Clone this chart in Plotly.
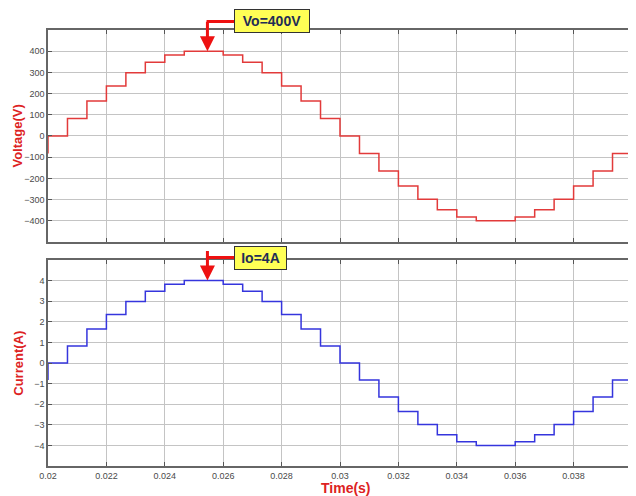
import plotly.graph_objects as go
from plotly.subplots import make_subplots

# step edges (s)
time_edges = [0.02, 0.020667, 0.021333, 0.022, 0.022667, 0.023333, 0.024, 0.024667,
              0.025333, 0.026, 0.026667, 0.027333, 0.028, 0.028667, 0.029333,
              0.03, 0.030667, 0.031333, 0.032, 0.032667, 0.033333, 0.034, 0.034667,
              0.035333, 0.036, 0.036667, 0.037333, 0.038, 0.038667, 0.039333, 0.04]
voltage_levels = [0, 83, 165, 236, 298, 348, 382, 400, 400, 382, 348, 298, 236, 165, 83,
                  0, -83, -165, -236, -298, -348, -382, -400, -400, -382, -348, -298, -236, -165, -83]
current_levels = [0, 0.83, 1.65, 2.36, 2.98, 3.48, 3.82, 4.0, 4.0, 3.82, 3.48, 2.98, 2.36, 1.65, 0.83,
                  0, -0.83, -1.65, -2.36, -2.98, -3.48, -3.82, -4.0, -4.0, -3.82, -3.48, -2.98, -2.36, -1.65, -0.83]
voltage_before = -83
current_before = -0.83

x_ticks = [0.02, 0.022, 0.024, 0.026, 0.028, 0.03, 0.032, 0.034, 0.036, 0.038]
x_tick_text = ["0.02", "0.022", "0.024", "0.026", "0.028", "0.03", "0.032", "0.034", "0.036", "0.038"]
v_ticks = [-400, -300, -200, -100, 0, 100, 200, 300, 400]
i_ticks = [-4, -3, -2, -1, 0, 1, 2, 3, 4]

peak_time = 0.02546

def step_xy(levels, before):
    xs = [time_edges[0]]
    ys = [before]
    for k, v in enumerate(levels):
        xs.append(time_edges[k])
        ys.append(v)
    xs.append(time_edges[-1])
    ys.append(levels[-1])
    return xs, ys

fig = make_subplots(rows=2, cols=1, shared_xaxes=False, vertical_spacing=0.04)

vx, vy = step_xy(voltage_levels, voltage_before)
ix, iy = step_xy(current_levels, current_before)
fig.add_trace(go.Scatter(x=vx, y=vy, mode="lines", line=dict(color="#e23a3a", width=1.5, shape="hv"),
                         showlegend=False), row=1, col=1)
fig.add_trace(go.Scatter(x=ix, y=iy, mode="lines", line=dict(color="#3535dd", width=1.5, shape="hv"),
                         showlegend=False), row=2, col=1)

tickfont = dict(family="Liberation Sans, Arial", size=9, color="#4a4a4a")
common_x = dict(range=[0.02, 0.04], tickvals=x_ticks, ticktext=x_tick_text, showgrid=True,
                gridcolor="#c4c4c4", gridwidth=1.3, showline=True, linecolor="#666666", linewidth=1.5,
                mirror="ticks", ticks="inside", ticklen=4, tickcolor="#555555", zeroline=False,
                tickfont=tickfont)
common_y = dict(showgrid=True, gridcolor="#c4c4c4", gridwidth=1.3, showline=True, linecolor="#666666",
                linewidth=1.5, mirror="ticks", ticks="inside", ticklen=4, tickcolor="#555555",
                zeroline=False, tickfont=tickfont)

# page body has an 8px margin, so the figure is sized/offset to compensate
fig.update_layout(
    width=628, height=488,
    margin=dict(l=40, r=4, t=22, b=30, autoexpand=False),
    paper_bgcolor="white", plot_bgcolor="white",
    xaxis=dict(domain=[0, 1], showticklabels=False, **common_x),
    xaxis2=dict(domain=[0, 1], showticklabels=True, **common_x),
    yaxis=dict(domain=[0.5138, 1.0], range=[-500, 500], tickvals=v_ticks, **common_y),
    yaxis2=dict(domain=[0.0, 0.4725], range=[-5, 5], tickvals=i_ticks, **common_y),
)

# axis titles
title_font = dict(family="Liberation Sans, Arial", size=13, color="#dd2222")
fig.add_annotation(text="<b>Voltage(V)</b>", xref="paper", yref="paper", x=-0.052, y=0.757,
                   textangle=-90, showarrow=False, font=title_font, xanchor="center", yanchor="middle")
fig.add_annotation(text="<b>Current(A)</b>", xref="paper", yref="paper", x=-0.052, y=0.236,
                   textangle=-90, showarrow=False, font=title_font, xanchor="center", yanchor="middle")
fig.add_annotation(text="<b>Time(s)</b>", xref="paper", yref="paper", x=0.51, y=-0.05,
                   showarrow=False, font=dict(family="Liberation Sans, Arial", size=14, color="#dd2222"),
                   xanchor="center", yanchor="middle")

# callouts
box_font = dict(family="Liberation Sans, Arial", size=14, color="#1f2d55")
box_left = 0.026383
for txt, yref_ax, yval, ypaper, bw in [("<b>Vo=400V</b>", "y", 400, 1.0195, 68),
                                       ("<b>Io=4A</b>", "y2", 4, 0.4782, 45)]:
    fig.add_annotation(text=txt, xref="x", yref="paper", x=box_left, y=ypaper, xanchor="left",
                       yanchor="middle", showarrow=False, font=box_font, bgcolor="#ffff55",
                       bordercolor="#333333", borderwidth=1, borderpad=3, width=bw, height=16,
                       align="center")
    fig.add_shape(type="line", xref="x", yref="paper", x0=peak_time - 0.00003, x1=box_left,
                  y0=ypaper, y1=ypaper, line=dict(color="#ee1111", width=3))
    fig.add_annotation(text="", xref="x", yref=yref_ax, x=peak_time, y=yval, ax=0, ay=-31,
                       showarrow=True, arrowhead=2, arrowsize=1.0, arrowwidth=3,
                       arrowcolor="#ee1111", standoff=0)

fig.write_html("out.html")
